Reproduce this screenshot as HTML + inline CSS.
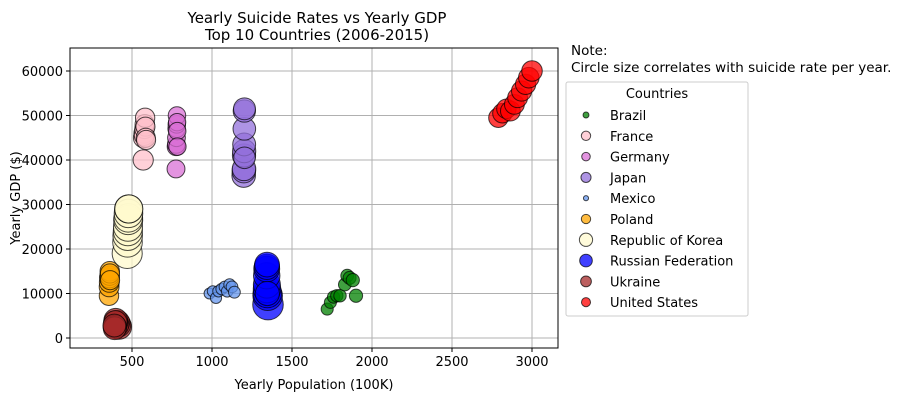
<!DOCTYPE html>
<html><head><meta charset="utf-8"><style>
body{margin:0;background:#fff;font-family:"Liberation Sans","DejaVu Sans",sans-serif}
svg text{font-family:"DejaVu Sans","Liberation Sans",sans-serif;fill:#000}
</style></head><body>
<svg id="c" width="912" height="403">
<text x="317" y="23" font-size="15" text-anchor="middle">Yearly Suicide Rates vs Yearly GDP</text>
<text x="317" y="40" font-size="15" text-anchor="middle">Top 10 Countries (2006-2015)</text>
<g id="grid"></g><g id="pts"></g><g id="axes"></g>
<text x="314" y="389" font-size="13" text-anchor="middle">Yearly Population (100K)</text>
<text transform="translate(20,198) rotate(-90)" font-size="13" text-anchor="middle">Yearly GDP ($)</text>
<text x="571" y="55" font-size="13.5">Note:</text>
<text x="571" y="72" font-size="13.5">Circle size correlates with suicide rate per year.</text>
<rect x="566" y="82" width="182" height="234" rx="2" fill="#fff" stroke="#ccc"/>
<text x="657" y="98" font-size="13" text-anchor="middle">Countries</text>
<g id="leg"></g>
</svg>
<script>
const countries=["Brazil","France","Germany","Japan","Mexico","Poland","Republic of Korea","Russian Federation","Ukraine","United States"];
const colors=["green","pink","orchid","mediumpurple","cornflowerblue","orange","lemonchiffon","blue","brown","red"];
const popBrazil=[1720,1740,1760,1780,1800,1830,1845,1860,1880,1900];
const gdpBrazil=[6500,8000,9200,9500,9500,12000,14000,13500,13000,9500];
const popFrance=[570,572,574,576,578,580,582,584,586,588];
const gdpFrance=[40000,45000,46000,45500,47000,48000,49500,47500,45000,44500];
const popGermany=[775,776,777,778,779,780,781,782,783,784];
const gdpGermany=[38000,43000,43500,45000,47000,48000,50000,48500,46500,43000];
const popJapan=[1198,1199,1200,1200,1201,1201,1202,1202,1203,1203];
const gdpJapan=[36500,37500,38000,41000,42000,43500,47000,51000,51500,40500];
const popMexico=[985,1005,1025,1040,1060,1080,1095,1110,1125,1140];
const gdpMexico=[10000,10500,9000,10500,11000,11500,10500,12000,11500,10300];
const popPoland=[356,357,358,359,360,361,362,363];
const gdpPoland=[9500,11500,12500,13500,14000,15000,14500,13000];
const popKorea=[470,472,473,474,475,476,477,478,479,480];
const gdpKorea=[19000,21500,23000,24000,25000,26500,27000,28000,29000,29000];
const popRussia=[1350,1348,1346,1344,1343,1342,1342,1343,1344,1346];
const gdpRussia=[7500,9500,10000,11000,12000,14000,15500,16000,16500,10000];
const popUkraine=[420,415,410,405,400,398,396,394,392,390];
const gdpUkraine=[2500,3000,3500,3000,3500,4000,3500,2500,2200,2800];
const popUS=[2790,2815,2840,2865,2890,2910,2935,2960,2980,3000];
const gdpUS=[49500,50500,51500,51000,52500,54000,55500,57000,58500,60000];
const rateBrazil=[5,5,5.2,5.2,5.3,5.5,5.6,5.8,6,6];
const rateFrance=[14,14,13.5,13.5,13,13,12.8,12.5,12.5,12.5];
const rateGermany=[11,11,10.8,10.8,10.5,10.5,10.5,10.3,10.3,10.3];
const rateJapan=[19,19,19,18.5,18.5,18,17.5,17,16.5,16];
const rateMexico=[4.2,4.2,4.3,4.4,4.5,4.5,4.6,4.6,4.7,4.8];
const ratePoland=[13,13.5,13.5,13.5,13,13,12.5,12.5];
const rateKorea=[31,30,30,29,29,29,28,28,27,27];
const rateRussia=[32,30,28,26,25,24,23,22,21,20];
const rateUkraine=[21,21,20,20,19.5,19,19,18.5,18,18];
const rateUS=[13,13,13,13.5,13.5,13.5,14,14,14.5,14.5];
const pops=[popBrazil,popFrance,popGermany,popJapan,popMexico,popPoland,popKorea,popRussia,popUkraine,popUS];
const gdps=[gdpBrazil,gdpFrance,gdpGermany,gdpJapan,gdpMexico,gdpPoland,gdpKorea,gdpRussia,gdpUkraine,gdpUS];
const rates=[rateBrazil,rateFrance,rateGermany,rateJapan,rateMexico,ratePoland,rateKorea,rateRussia,rateUkraine,rateUS];
const xTicks=[500,1000,1500,2000,2500,3000];
const yTicks=[0,10000,20000,30000,40000,50000,60000];
const legendRates=[1.2,3,2.5,3.5,0.9,3,6,5.5,4,2.8];
const X0=70,X1=558,Y0=48,Y1=348;
const xs=v=>52+v*0.16, ys=v=>338-v*0.004450, rs=r=>2.7*Math.sqrt(r);
const NS="http://www.w3.org/2000/svg";
function mk(t,a,p){const e=document.createElementNS(NS,t);for(const k in a)e.setAttribute(k,a[k]);p.appendChild(e);return e;}
const grid=document.getElementById('grid'),axes=document.getElementById('axes'),pts=document.getElementById('pts'),leg=document.getElementById('leg');
xTicks.forEach(t=>{const x=xs(t);
const g=mk('line',{x1:x,x2:x,y1:Y0,y2:Y1,stroke:'#b0b0b0','stroke-width':1},grid);


mk('line',{x1:x,x2:x,y1:Y1,y2:Y1+4,stroke:'#000'},axes);
const l=mk('text',{x:x,y:Y1+18,'font-size':13,'text-anchor':'middle'},axes);l.textContent=t;

});
yTicks.forEach(t=>{const y=ys(t);
const g=mk('line',{x1:X0,x2:X1,y1:y,y2:y,stroke:'#b0b0b0','stroke-width':1},grid);


mk('line',{x1:X0-4,x2:X0,y1:y,y2:y,stroke:'#000'},axes);
const l=mk('text',{x:X0-7,y:y+5,'font-size':13,'text-anchor':'end'},axes);l.textContent=t;

});
const fr=mk('rect',{x:X0,y:Y0,width:X1-X0,height:Y1-Y0,fill:'none',stroke:'#000'},axes);


countries.forEach((c,i)=>{pops[i].forEach((p,j)=>{
const e=mk('circle',{cx:xs(p),cy:ys(gdps[i][j]),r:rs(rates[i][j]),fill:colors[i],'fill-opacity':0.75,stroke:'#000','stroke-opacity':0.7},pts);

});
const y=120+i*20.8;
const m=mk('circle',{cx:586,cy:y-5,r:rs(legendRates[i]),fill:colors[i],'fill-opacity':0.75,stroke:'#000','stroke-opacity':0.7},leg);


const t=mk('text',{x:610,y:y,'font-size':13},leg);t.textContent=c;

});
</script>
</body></html>
